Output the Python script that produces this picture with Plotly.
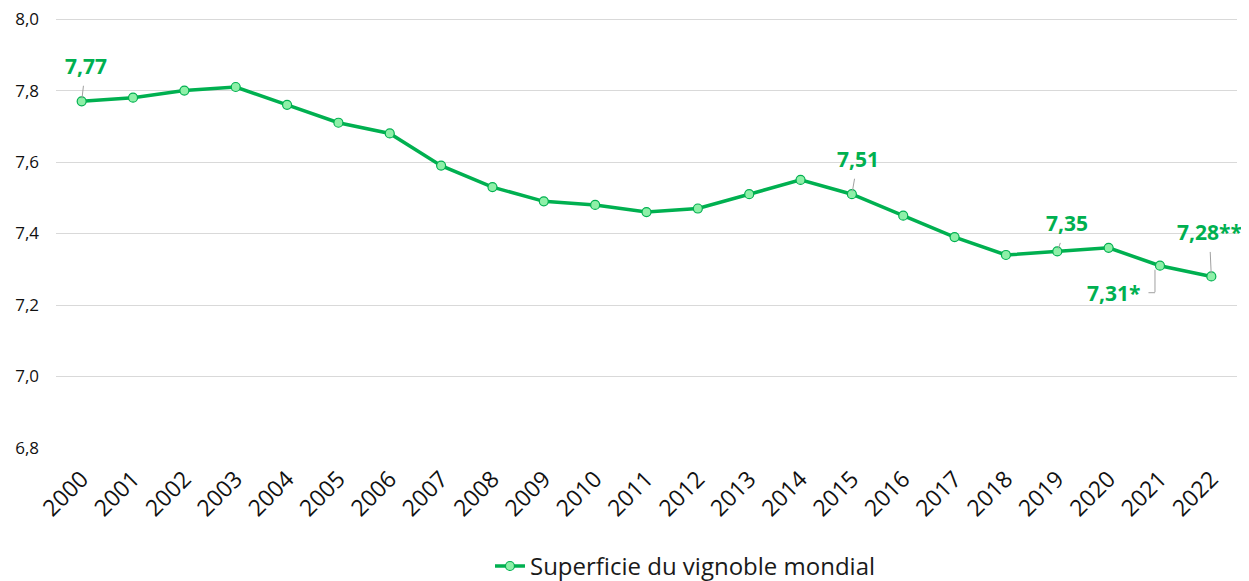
import plotly.graph_objects as go

years = [str(y) for y in range(2000, 2023)]
values = [7.77, 7.78, 7.80, 7.81, 7.76, 7.71, 7.68, 7.59, 7.53, 7.49, 7.48, 7.46,
          7.47, 7.51, 7.55, 7.51, 7.45, 7.39, 7.34, 7.35, 7.36, 7.31, 7.28]
y_ticks = [6.8, 7.0, 7.2, 7.4, 7.6, 7.8, 8.0]
y_tick_labels = ["6,8", "7,0", "7,2", "7,4", "7,6", "7,8", "8,0"]

# labelled points with straight leader: (year, text, ax, ay)
labels = [("2000", "7,77", 4, -35), ("2015", "7,51", 6, -35), ("2019", "7,35", 10, -28),
          ("2022", "7,28**", -2, -44)]
# labelled point with elbow leader
elbow_label = ("2021", "7,31*")

GREEN = "#00b050"
LEADER = "#a0a0a0"
FONT = "Open Sans"
idx = list(range(len(years)))

fig = go.Figure()
fig.add_trace(go.Scatter(
    x=idx, y=values, mode="lines+markers", name="Superficie du vignoble mondial",
    line=dict(color=GREEN, width=3.5),
    marker=dict(size=9, color="#8ef0a8", line=dict(color=GREEN, width=1.2)),
))

for yr, txt, ax, ay in labels:
    i = years.index(yr)
    fig.add_annotation(
        x=i, y=values[i], text="<b>" + txt + "</b>",
        showarrow=True, arrowhead=0, arrowwidth=1, arrowcolor=LEADER,
        ax=ax, ay=ay, borderpad=5, standoff=3,
        font=dict(family=FONT, size=21, color=GREEN),
    )

# elbow leader for 2021
i = years.index(elbow_label[0])
fig.add_annotation(x=i, y=values[i], text="", showarrow=True, arrowhead=0,
                   arrowwidth=1, arrowcolor=LEADER, ax=0, ay=23,
                   xshift=-5, yshift=-4, standoff=0, borderpad=0)
fig.add_annotation(x=i, y=values[i], text="", showarrow=True, arrowhead=0,
                   arrowwidth=1, arrowcolor=LEADER, ax=-7, ay=0,
                   xshift=-5, yshift=-27, standoff=0, borderpad=0)
fig.add_annotation(x=i, y=values[i], text="<b>" + elbow_label[1] + "</b>",
                   showarrow=False, xshift=-46, yshift=-27,
                   font=dict(family=FONT, size=21, color=GREEN))

fig.update_layout(
    width=1249, height=581,
    margin=dict(l=48, r=20, t=10, b=141, autoexpand=False),
    plot_bgcolor="white", paper_bgcolor="white",
    font=dict(family=FONT, color="#1a1a1a"),
    showlegend=True,
    legend=dict(orientation="h", x=0.533, xanchor="center", y=-0.223, yanchor="top",
                font=dict(size=24, family=FONT, color="#1a1a1a")),
    xaxis=dict(range=[-0.5, 22.5], tickvals=idx, ticktext=years, tickangle=-45,
               tickfont=dict(size=23, family=FONT, color="#111"),
               ticklabelstandoff=12,
               showgrid=False, showline=False, zeroline=False, ticks="", automargin=False),
    yaxis=dict(range=[6.8, 8.003], tickvals=y_ticks, ticktext=y_tick_labels,
               tickfont=dict(size=17, family=FONT, color="#111"),
               showgrid=True, gridcolor="#d9d9d9", gridwidth=1,
               zeroline=False, showline=False, ticks="", ticklabelstandoff=16,
               ticklabeloverflow="allow", automargin=False),
)

fig.write_html("out.html")
